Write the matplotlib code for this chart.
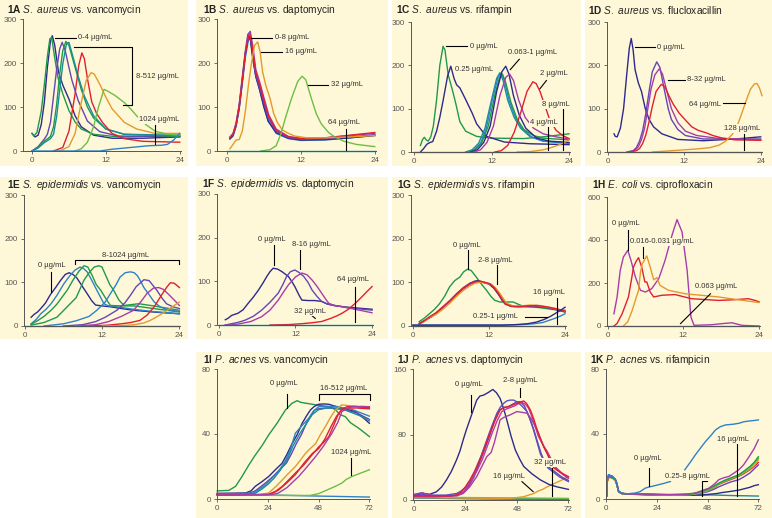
import numpy as np
import matplotlib.pyplot as plt
from matplotlib.patches import Rectangle

plt.rcParams['font.family'] = ['Liberation Sans', 'DejaVu Sans']
plt.rcParams['mathtext.fontset'] = 'custom'
plt.rcParams['mathtext.rm'] = 'Liberation Sans'
plt.rcParams['mathtext.it'] = 'Liberation Sans:italic'
plt.rcParams['mathtext.bf'] = 'Liberation Sans:bold'

W, H = 772, 518
BG = '#FFF8D8'

NAVY = '#2E2A8C'
GREEN = '#1E9A4A'
BLUE = '#2F82C8'
TEAL = '#1A8C9C'
RED = '#E0202F'
ORANGE = '#E39A2A'
PURPLE = '#A63DAA'
VIOLET = '#6446B6'
LGREEN = '#6DBE45'
MAGENTA = '#C0389E'

# ---- 1A S. aureus vs vancomycin (t in h, value) ----
a_navy = [(0, 40), (0.5, 32), (1, 36), (1.5, 60), (2, 110), (2.5, 190), (3.0, 250), (3.3, 262), (3.7, 240), (4.3, 180),
          (5, 150), (6, 118), (7, 80), (8, 55), (10, 36), (13, 29), (18, 29), (24, 32)]
a_green = [(0, 40), (0.3, 34), (0.8, 42), (1.5, 90), (2, 150), (2.5, 215), (2.9, 255), (3.2, 258), (3.6, 220), (4.2, 168),
           (5, 130), (6, 92), (7, 66), (8, 50), (10, 38), (14, 32), (24, 35)]
a_violet = [(0, 0), (1, 10), (2, 27), (2.5, 38), (3, 65), (3.5, 125), (4, 185), (4.5, 232), (4.9, 247), (5.4, 228),
            (6, 190), (6.5, 160), (7.5, 115), (9, 68), (11, 44), (14, 34), (24, 33)]
a_green2 = [(0, 0), (1, 8), (2, 22), (3, 33), (3.5, 55), (4, 105), (4.5, 175), (5, 228), (5.5, 249), (6, 240),
            (7, 190), (8, 140), (9, 100), (10, 75), (12, 50), (15, 38), (24, 33)]
a_blue = [(0, 0), (1, 7), (2, 19), (3, 28), (3.5, 38), (4, 78), (4.5, 138), (5, 198), (5.6, 244), (6.0, 247),
          (6.5, 222), (7.5, 170), (8.5, 125), (10, 80), (12, 50), (15, 38), (24, 36)]
a_red = [(3.5, 0), (5, 8), (6, 45), (7, 130), (7.6, 195), (8.1, 223), (8.5, 210), (9, 165), (9.7, 112), (10.5, 85),
         (11.5, 64), (13, 40), (15, 28), (18, 22), (24, 20)]
a_orange = [(4.5, 0), (6, 10), (7, 40), (8, 110), (8.8, 160), (9.6, 178), (10.1, 175), (11, 152), (12, 122), (13, 96),
            (15, 65), (17, 50), (20, 40), (24, 40)]
a_lgreen = [(7, 0), (8, 5), (9, 20), (10, 55), (10.8, 100), (11.7, 140), (12.3, 136), (13.5, 126), (15, 110), (16, 96),
            (17, 80), (18.5, 60), (20, 45), (22, 38), (24, 36)]
a_blue2 = [(0, 0), (11, 0), (13, 4), (16, 8), (19, 12), (21, 13), (22, 15), (23, 25), (24, 40)]

# ---- 1B S. aureus vs daptomycin ----
b_navy = [(0.5, 28), (1, 35), (1.5, 58), (2, 98), (2.5, 158), (3, 220), (3.5, 262), (3.8, 255), (4.2, 210), (4.7, 170),
          (5.3, 140), (6, 100), (6.7, 68), (8, 42), (10, 29), (12, 25), (16, 26), (20, 30), (24, 35)]
b_violet = [(0.5, 30), (1, 38), (1.5, 62), (2, 105), (2.5, 168), (3, 228), (3.4, 265), (3.7, 270), (4.1, 235), (4.6, 178),
            (5.2, 150), (6, 110), (6.7, 75), (8, 45), (10, 30), (12, 27), (16, 28), (20, 32), (24, 37)]
b_purple = [(0.5, 32), (1, 40), (1.5, 64), (2, 104), (2.5, 162), (3, 222), (3.5, 264), (3.8, 272), (4.2, 240), (4.7, 185),
            (5.3, 158), (6, 122), (6.8, 82), (8, 50), (10, 33), (12, 29), (16, 30), (20, 35), (24, 40)]
b_red = [(0.5, 30), (1, 37), (1.5, 60), (2, 100), (2.5, 160), (3, 222), (3.5, 260), (3.8, 263), (4.2, 228), (4.7, 178),
         (5.3, 152), (6, 115), (6.8, 78), (8, 47), (10, 32), (12, 28), (16, 30), (20, 36), (24, 42)]
b_blue = [(0.5, 27), (1, 34), (1.5, 56), (2, 95), (2.5, 152), (3, 212), (3.5, 252), (3.8, 256), (4.2, 215), (4.7, 168),
          (5.3, 140), (6, 102), (6.7, 68), (8, 40), (10, 28), (12, 24), (16, 25), (20, 30), (24, 36)]
b_orange = [(0.5, 5), (1, 15), (1.5, 25), (2, 26), (2.5, 45), (3, 90), (3.5, 150), (4, 200), (4.5, 240), (5, 248),
            (5.4, 225), (5.8, 180), (6.3, 150), (7, 120), (7.6, 85), (8.2, 65), (9, 48), (10, 40), (11, 34), (13, 30),
            (16, 30), (20, 32), (24, 35)]
b_lgreen = [(5.5, 0), (7, 3), (8, 12), (8.8, 40), (9.5, 75), (10.5, 120), (11.5, 158), (12.2, 170), (12.8, 162),
            (13.7, 120), (14.5, 85), (15.3, 62), (16.5, 42), (17.5, 32), (19, 22), (21, 15), (24, 10)]
b_teal = [(0, 0), (24, 0)]

# ---- 1C S. aureus vs rifampin ----
c_green = [(1, 15), (1.3, 28), (1.6, 34), (1.9, 28), (2.2, 25), (2.6, 35), (3, 60), (3.5, 120), (4, 200), (4.5, 244),
           (4.8, 235), (5.3, 178), (6, 140), (6.5, 110), (7.1, 70), (8, 48), (9.7, 36), (12, 32), (17, 31), (20, 35),
           (24, 42)]
c_navy = [(1, 0), (1.5, 8), (2, 18), (2.5, 22), (2.9, 24), (3.5, 48), (4, 80), (4.5, 118), (5.2, 175), (5.7, 198),
          (6.2, 170), (6.6, 155), (7.1, 148), (8.1, 118), (9, 90), (9.7, 65), (11.2, 36), (14, 23), (18, 19), (24, 17)]
c_teal = [(8, 0), (9, 5), (10, 20), (11, 55), (12, 120), (12.8, 170), (13.3, 183), (13.8, 165), (14.5, 120),
          (15.5, 80), (16.5, 55), (18, 35), (20, 25), (24, 20)]
c_blue = [(8.3, 0), (9.3, 5), (10.3, 20), (11.2, 55), (12.2, 125), (13, 172), (13.5, 182), (14, 165), (14.7, 120),
          (15.7, 80), (16.7, 55), (18.2, 35), (20, 25), (24, 21)]
c_green2 = [(8.5, 0), (9.5, 5), (10.5, 22), (11.5, 60), (12.5, 130), (13.2, 170), (13.7, 180), (14.2, 160), (15, 115),
            (16, 75), (17, 52), (18.5, 38), (20, 32), (24, 28)]
c_navy2 = [(8.8, 0), (9.8, 5), (10.8, 22), (11.8, 60), (12.8, 140), (13.6, 185), (14.2, 198), (14.7, 180), (15.4, 130),
           (16.3, 85), (17.3, 55), (19, 32), (21, 25), (24, 22)]
c_purple = [(9.3, 0), (10.3, 5), (11.3, 22), (12.3, 60), (13.3, 130), (14.2, 172), (14.8, 180), (15.4, 165),
            (16.2, 120), (17.2, 80), (18.5, 55), (20, 42), (22, 35), (24, 30)]
c_red = [(12.5, 0), (13.5, 3), (14.5, 15), (15.5, 45), (16.5, 90), (17.5, 140), (18.4, 162), (18.9, 158), (19.5, 140),
         (20.2, 110), (21, 75), (22, 50), (23, 38), (24, 31)]
c_orange = [(16, 0), (18, 1), (20, 5), (21, 9), (22, 14), (23, 20), (24, 28)]
c_teal2 = [(0, 0), (24, 0)]

# ---- 1D S. aureus vs flucloxacillin ----
d_navy = [(1, 42), (1.2, 36), (1.5, 35), (2, 55), (2.5, 100), (3, 180), (3.4, 240), (3.7, 262), (4, 235), (4.3, 190),
          (4.8, 160), (5.3, 140), (5.9, 100), (6.5, 75), (7.2, 58), (8.5, 42), (11, 29), (15, 26), (20, 30), (24, 35)]
d_violet = [(3, 0), (4, 3), (4.5, 10), (5, 25), (5.5, 50), (6, 90), (6.5, 140), (7, 185), (7.7, 208), (8.2, 195),
            (8.8, 150), (9.5, 100), (10, 75), (11, 52), (12.2, 38), (15, 30), (20, 30), (24, 30)]
d_purple = [(3.2, 0), (4.2, 3), (4.8, 12), (5.3, 28), (5.8, 55), (6.3, 100), (6.8, 145), (7.4, 178), (8.1, 192),
            (8.6, 180), (9.2, 145), (10, 100), (11, 68), (12.2, 48), (14, 38), (17, 32), (24, 28)]
d_red = [(3.5, 0), (4.5, 3), (5, 8), (5.5, 20), (6, 40), (6.5, 70), (7, 105), (7.6, 140), (8.4, 156), (9, 150),
         (9.6, 130), (10.3, 110), (11.2, 90), (12.3, 72), (13.2, 58), (14.2, 50), (15.5, 44), (16.5, 38), (18, 32),
         (20, 28), (24, 27)]
d_orange = [(7, 0), (10, 3), (12, 5), (14, 7), (16, 10), (17.5, 16), (18.5, 25), (19.5, 40), (20.3, 60), (21, 88),
            (21.7, 118), (22.4, 145), (23, 157), (23.4, 158), (23.8, 148), (24.2, 130)]
d_teal = [(0, 0), (24, 0)]

# ---- 1E S. epidermidis vs vancomycin ----
e_navy = [(1, 20), (1.5, 27), (2, 32), (2.5, 40), (3.2, 52), (4, 72), (4.8, 88), (5.6, 105), (6.3, 118), (6.9, 122),
          (7.5, 118), (8.1, 110), (8.9, 92), (9.7, 74), (10.4, 58), (11, 48), (12, 46), (13.3, 44), (15, 40),
          (16.9, 36), (20, 32), (24, 28)]
e_blue = [(1, 5), (1.8, 15), (2.5, 28), (3.3, 38), (4.1, 51), (5, 70), (6.1, 97), (7, 115), (7.8, 128), (8.6, 135),
          (9.1, 132), (9.7, 124), (10.4, 105), (11.2, 82), (12.3, 51), (13, 46), (14.3, 44), (17, 38), (20, 33),
          (24, 28)]
e_green = [(1, 4), (2, 12), (3, 22), (4.1, 36), (5, 50), (6.6, 82), (7.5, 105), (8.4, 125), (9.2, 138), (9.8, 135),
           (10.5, 115), (11.1, 95), (11.8, 82), (12.5, 65), (13.3, 47), (15, 46), (17, 46), (20, 40), (24, 32)]
e_green2 = [(1, 2), (3, 8), (5, 20), (6.6, 44), (8, 65), (9.2, 105), (10, 122), (10.8, 135), (11.5, 138), (12, 135),
            (12.6, 115), (13.2, 95), (13.8, 82), (14.6, 60), (15.4, 47), (17.7, 51), (20, 46), (24, 36)]
e_blue2 = [(3, 0), (6, 5), (8, 12), (10, 22), (11.2, 36), (12.5, 55), (13.3, 74), (14.2, 95), (14.8, 112), (15.6, 122),
           (16.4, 124), (17, 122), (17.5, 115), (17.9, 105), (18.5, 88), (19.2, 74), (20.1, 55), (21, 44), (22, 38),
           (24, 33)]
e_violet = [(6, 0), (9, 3), (11, 10), (12.5, 20), (14.3, 36), (15.5, 52), (16.4, 70), (17.3, 90), (18.5, 106),
            (19.3, 104), (20.5, 82), (21.3, 64), (22, 51), (23, 44), (24, 40)]
e_purple = [(8, 0), (11, 3), (13, 10), (15, 22), (16.9, 36), (18, 55), (19, 75), (20, 87), (20.8, 88), (21.5, 84),
            (22.5, 70), (23.3, 58), (24, 47)]
e_red = [(10, 0), (13, 2), (15, 5), (16.5, 8), (17.9, 13), (19, 25), (20.1, 44), (21.2, 70), (22, 88), (22.6, 99),
         (23.2, 98), (23.7, 92), (24, 88)]
e_orange = [(12, 0), (15, 1), (17, 3), (18.5, 7), (19.5, 13), (20.5, 21), (21.5, 30), (22.5, 40), (23.3, 48), (24, 55)]
e_teal = [(0, 0), (24, 0)]

# ---- 1F S. epidermidis vs daptomycin ----
f_navy = [(1, 12), (1.5, 16), (2, 22), (3, 27), (3.8, 35), (4.6, 50), (5.4, 64), (6.2, 80), (6.9, 96), (7.5, 111),
          (8, 122), (8.5, 130), (9.2, 128), (9.9, 122), (10.9, 111), (11.4, 100), (11.9, 88), (12.5, 70), (13, 57),
          (14, 56), (15, 56), (16.1, 54), (17, 48), (18.2, 44), (20, 41), (24, 36)]
f_violet = [(1, 0), (2, 3), (3, 6), (4.1, 11), (5.4, 20), (6.7, 34), (8, 52), (9.3, 73), (10, 92), (10.6, 111),
            (11.2, 122), (11.9, 126), (12.6, 120), (13.3, 111), (14, 97), (14.6, 80), (15.4, 65), (16.1, 54), (17, 48),
            (17.7, 46), (20, 40), (24, 34)]
f_purple = [(1, 0), (3, 2), (5, 8), (6.7, 19), (8, 34), (9.3, 57), (10.1, 75), (10.9, 92), (12, 110), (13, 119),
            (13.8, 115), (14.6, 103), (15.4, 88), (16.1, 73), (16.7, 60), (17.2, 50), (18, 45), (19.3, 42), (22, 34),
            (24, 28)]
f_red = [(8, 0), (11, 1), (13, 3), (14.5, 5), (16.1, 8), (17.5, 15), (18.5, 21), (19.3, 27), (20.3, 36), (21.4, 50),
         (22.5, 66), (23.3, 78), (24, 88)]
f_teal = [(0, 0), (24, 0)]

# ---- 1G S. epidermidis vs rifampin ----
g_green = [(1, 10), (1.8, 18), (2.6, 28), (3.4, 38), (4.2, 51), (5, 68), (5.8, 90), (6.6, 104), (7.4, 112), (8, 124),
           (8.6, 130), (9.2, 127), (10, 112), (10.8, 96), (11.6, 82), (12.3, 68), (12.9, 59), (13.7, 55), (14.5, 55),
           (15.8, 55), (16.6, 50), (17.4, 45), (20, 42), (22, 38), (24, 36)]
g_red = [(1, 5), (1.8, 12), (2.6, 21), (3.6, 30), (4.7, 44), (5.8, 58), (6.9, 74), (8, 88), (9, 97), (9.7, 101),
         (10.5, 103), (11.3, 100), (12.1, 97), (12.8, 88), (13.5, 74), (14.1, 60), (14.5, 51), (15.5, 45), (16.4, 44),
         (18, 46), (19.5, 47), (21, 44), (22.5, 40), (24, 34)]
g_orange = [(1, 4), (1.8, 10), (2.6, 20), (3.6, 26), (4.7, 38), (5.8, 52), (6.9, 68), (8, 82), (9, 92), (9.8, 98),
            (10.6, 100), (11.4, 99), (12.2, 96), (13, 88), (13.7, 75), (14.3, 62), (14.8, 52), (15.8, 46), (17, 46),
            (18.5, 48), (20, 47), (21.5, 43), (23, 38), (24, 35)]
g_navy = [(1, 6), (2, 14), (3, 22), (4, 33), (5, 46), (6, 60), (7, 75), (8, 88), (9, 98), (9.8, 103), (10.3, 104),
          (11, 100), (12, 96), (12.8, 86), (13.5, 72), (14.1, 58), (14.6, 50), (15.5, 45), (17, 44), (19, 45),
          (21, 43), (24, 32)]
g_purple = [(1, 5), (2, 13), (3, 22), (4, 32), (5, 45), (6, 58), (7, 72), (8, 85), (9, 95), (10, 101), (10.8, 102),
            (11.6, 99), (12.4, 95), (13.1, 84), (13.8, 68), (14.4, 55), (15, 48), (16, 45), (18, 46), (20, 45),
            (22, 40), (24, 33)]
g_blue = [(0, 2), (14, 2), (17, 3), (19, 5), (20.5, 8), (21.5, 13), (22.5, 18), (23.3, 23), (24, 28)]
g_navy2 = [(0, 2), (14, 2), (16, 3), (18, 5), (19.5, 9), (20.7, 15), (21.7, 22), (22.6, 30), (23.4, 37), (24, 43)]
g_teal = [(0, 1), (24, 1)]

# ---- 1H E. coli vs ciprofloxacin ----
h_magenta = [(1, 57), (1.5, 135), (2, 259), (2.5, 321), (3.2, 352), (3.7, 305), (4.4, 228), (5.2, 166), (6, 158),
             (7, 174), (8.1, 220), (9.1, 305), (10.2, 422), (11, 495), (11.8, 437), (12.6, 259), (13.2, 42), (13.7, 3),
             (16.5, 6), (18.5, 12), (19.7, 15), (21.3, 3), (24, 0)]
h_red = [(1, 0), (1.5, 12), (2.3, 57), (3.3, 135), (3.8, 220), (4.1, 274), (4.5, 300), (4.9, 318), (5.4, 274),
         (5.9, 205), (6.2, 205), (6.75, 158), (7.3, 135), (8.6, 143), (10.7, 146), (13.3, 127), (17.6, 119), (20, 122),
         (22.3, 127), (23.5, 118), (24, 112)]
h_orange = [(2.5, 0), (3.2, 20), (3.9, 73), (4.5, 130), (4.9, 166), (5.2, 250), (5.5, 290), (6.2, 326), (6.75, 274),
            (7.3, 215), (7.8, 225), (8.3, 189), (9.65, 166), (12.3, 150), (17.6, 135), (20, 125), (24, 109)]
h_blue = [(0, 0), (24, 0)]

# ---- 1I P. acnes vs vancomycin ----
i_green = [(0, 5), (5.5, 5.3), (8.7, 7.8), (11.8, 14), (15, 21), (18, 27), (21.3, 33), (24.4, 39.5), (28.3, 46.6),
           (32.3, 54.8), (35.4, 58.9), (37.8, 60.5), (39.5, 59.5), (41.7, 59), (46.5, 58), (52.8, 56.8), (56, 55),
           (58, 52), (60.6, 50.7), (63, 47), (66.9, 43.6), (69.5, 41), (72, 38.4)]
i_navy = [(0, 3.5), (13.4, 3.7), (16, 5), (18, 7.8), (21, 10.5), (24.4, 13.9), (27.5, 18), (30.7, 22), (33, 27.5),
          (35.4, 34), (37.8, 39.5), (40.2, 46.6), (42.2, 51), (44.1, 54.8), (46, 57), (48, 58.3), (50.5, 58.5),
          (52.8, 58.3), (56, 57), (59, 55.8), (62, 55), (65.4, 53.8), (68, 51), (70, 49), (72, 46.6)]
i_violet = [(0, 3), (15, 3.5), (18, 5), (20, 7), (23, 10), (26.4, 13.9), (29.5, 18), (32.7, 22), (35, 27.5),
            (37.4, 34), (39.8, 39.5), (42.2, 46.6), (44.2, 51), (46.1, 54.8), (48, 55.5), (51, 56), (54, 56),
            (57, 55.5), (60, 55), (63, 54), (66, 53), (69, 51), (72, 49)]
i_blue = [(0, 3), (17, 3.5), (20, 6), (23, 9), (26, 13), (29, 17), (32, 23), (34.5, 30), (37, 40.5), (40, 45),
          (43.3, 49.7), (45.5, 54), (48, 56.8), (52, 57), (56, 57), (60, 56), (64, 55), (68, 53), (72, 51)]
i_teal = [(0, 3), (18, 3.5), (21, 6), (24, 9), (27, 13), (30, 18), (33, 24), (36, 33), (39, 40), (42, 46), (45, 52),
          (48, 55), (52, 56), (56, 56), (60, 55), (64, 53), (68, 51), (72, 48)]
i_orange = [(0, 2.5), (20, 2.7), (24.4, 3.7), (28, 8), (31, 12), (33.9, 16), (37, 20), (40, 25), (41.7, 28), (44, 31),
            (46.5, 34), (49, 40), (51.2, 44.6), (53.5, 50), (55.9, 54.8), (59, 57.9), (62, 57.5), (66, 57), (70, 56),
            (72, 55.8)]
i_red = [(0, 2.5), (24, 2.7), (27.6, 4.7), (31, 8), (34, 12), (37, 16), (41, 21), (44.9, 27.2), (48, 32), (50.5, 35),
         (52.8, 38.4), (55, 45), (57.5, 52.8), (59.5, 55.5), (61.4, 56.8), (65, 57), (68, 56.6), (72, 56.2)]
i_red2 = [(0, 2.5), (25, 2.8), (29, 5.5), (33, 10), (37, 15), (41, 22), (45, 28), (48, 31), (51, 37), (54, 45),
          (56.5, 51), (59, 55), (62, 56), (66, 56), (72, 55.5)]
i_magenta = [(0, 2.5), (26, 2.8), (29, 3.7), (33, 7), (38.6, 13.9), (42, 19), (46.5, 26), (50, 32), (54.3, 40.5),
             (57, 47), (59, 53.8), (62, 56), (63.8, 56.8), (68, 57), (72, 56.8)]
i_lgreen = [(0, 2.5), (30, 2.2), (44, 2.2), (48, 3.3), (51, 5), (55.9, 7.8), (59, 9.8), (61, 12), (63.8, 13.9),
            (67, 15.5), (70, 17), (72, 18)]
i_blue2 = [(0, 3), (24, 2.5), (48, 1.8), (72, 1.2)]

# ---- 1J P. acnes vs daptomycin ----
j_navy = [(0, 5), (1, 6), (4.2, 8), (7.4, 7), (10.5, 10), (13, 16), (15.2, 24.5), (17.5, 35), (19.9, 49), (21.5, 60),
          (23, 73.5), (24.5, 86), (26.1, 98), (27.7, 110), (29.3, 122), (30.8, 127), (32.4, 128), (34.5, 131),
          (36.8, 135), (38.5, 131), (40.2, 124), (41.8, 112), (43.3, 98), (45.3, 78), (47.3, 61), (49.3, 50),
          (51.2, 41), (55, 32), (59, 24.5), (63, 19), (66.8, 16), (72, 13)]
j_violet = [(0, 7), (3, 8), (6, 6), (10, 6), (15, 6), (20, 8), (22, 11), (24.6, 16), (27, 26), (29.3, 41), (31.5, 55),
            (34, 73.5), (36.3, 90), (38.7, 106), (40.2, 113), (41.8, 118), (43.3, 121), (44.9, 122), (46.5, 122),
            (48, 120), (50.3, 115), (52.7, 108), (54.3, 98), (55.9, 86), (57.5, 72), (59.3, 57), (61, 46), (62.5, 39),
            (65, 34), (68, 28), (72, 22.5)]
j_blueviolet = [(0, 6), (5, 6), (10, 5), (15, 5), (20, 6), (23, 9), (25.5, 16), (28, 28), (30.5, 45), (33, 62),
                (35.5, 80), (38, 100), (40, 110), (42, 113), (44, 114), (46, 117), (48, 120), (49.5, 120),
                (51.5, 115), (53.5, 103), (55.5, 88), (57.5, 70), (59, 56), (61, 46), (63, 40), (66, 34), (69, 28),
                (72, 24)]
j_red = [(0, 5), (10, 5), (17, 5), (19.9, 6), (22, 10), (24, 16), (26.1, 24.5), (28.5, 36), (30.8, 49), (33, 64),
         (35.5, 82), (38, 98), (40.2, 110), (42, 113), (44.1, 114), (46, 116), (48, 118), (50, 120), (51.2, 121),
         (52.5, 118), (54.3, 110), (56, 98), (57.4, 86), (59, 75), (60.5, 65), (62.1, 57), (63.5, 48), (65.3, 39),
         (68, 34), (72, 28.6)]
j_red2 = [(0, 4), (10, 4), (18, 5), (21, 7), (23, 10), (25, 16), (27, 24), (29.5, 36), (32, 50), (34, 64), (36.5, 82),
          (39, 98), (41, 108), (43, 111), (45, 113), (47, 115), (49, 118), (50.5, 119), (52, 117), (53.5, 112),
          (55, 102), (56.5, 90), (58, 78), (60, 68), (62, 60), (64, 50), (66, 40), (69, 33), (72, 27)]
j_magenta = [(0, 6), (2, 8), (4, 9), (6, 7), (10, 5), (15, 5), (20, 5), (23, 8), (26, 16), (29.3, 28.6), (31.5, 40),
             (34, 53), (36, 58), (37.5, 70), (40.2, 98), (42, 101), (44.9, 104), (48, 108), (50.5, 107), (52.7, 106),
             (54.5, 100), (57.4, 86), (59.3, 73), (61.3, 61), (63.5, 50), (66.8, 37), (69.5, 31), (72, 26.5)]
j_orange = [(0, 3), (20, 2.5), (40, 2), (45, 2), (48, 3), (51.2, 4), (53.5, 6), (55.9, 8), (58, 11), (60, 13),
            (62.1, 16), (64.5, 19), (67, 22), (69.5, 25), (72, 28.6)]
j_green = [(0, 4), (24, 3), (48, 2.5), (72, 2)]
j_teal = [(0, 3), (24, 2), (48, 1.5), (72, 1)]
j_blue = [(0, 2.5), (24, 1.5), (48, 1), (72, 0.5)]

# ---- 1K P. acnes vs rifampicin ----
k_blue = [(0.3, 2), (0.5, 12), (1.1, 15), (2.7, 14), (3.5, 13), (4.3, 12), (5, 10), (5.5, 7), (5.9, 4.7), (7.4, 3.7),
          (10, 3.2), (13.8, 3.7), (16, 4.5), (18.5, 6.7), (20, 7.3), (21.7, 7.8), (24.8, 8.8), (27, 9.5),
          (30.4, 10.8), (np.nan, np.nan), (37.2, 18), (40, 23), (42.2, 27.2), (45, 32), (47, 35.4), (49.5, 39),
          (51.7, 42.5), (54, 44.5), (56.5, 45.6), (60, 46), (62.8, 46.6), (65, 47.5), (67.6, 48), (70, 48.3),
          (72, 48.7)]
k_magenta = [(0.3, 2), (0.5, 11), (1.1, 14), (2.7, 14), (4.3, 12), (5, 10), (5.9, 4.5), (7.4, 3.5), (10, 3), (20, 3),
             (30, 2.8), (38, 3), (42.2, 3.7), (45, 5), (48.6, 6.7), (51, 9), (53.3, 11.9), (55.5, 13), (58.1, 13.9),
             (60.5, 16), (62.8, 18), (65, 21), (67.6, 26), (70, 31), (72, 36.4)]
k_green = [(0.3, 2), (0.5, 12), (1.1, 14), (2.7, 13), (4.3, 12), (5, 9), (5.9, 4.5), (7.4, 3.5), (10, 3), (20, 3),
           (30, 2.6), (40, 3), (45, 4.5), (48, 6), (51, 8), (53.3, 9.8), (56, 11.5), (59, 13), (62.8, 15), (65, 17),
           (68, 20), (70, 22.5), (72, 26)]
k_orange = [(0.3, 2), (0.5, 10), (1.1, 13), (2.7, 13), (4.3, 11), (5, 9), (5.9, 4.3), (7.4, 3.3), (10, 3), (20, 2.8),
            (30, 2.5), (40, 2.8), (45, 4), (48, 5.5), (51, 7.5), (53.3, 9.5), (56, 11), (59, 12.5), (62.8, 14.5),
            (65, 16), (68, 18.5), (70, 20.5), (72, 24)]
k_red = [(0.3, 2), (0.5, 11), (1.1, 14), (2.7, 14), (4.3, 12), (5, 9), (5.9, 4.4), (7.4, 3.4), (10, 3), (20, 2.8),
         (30, 2.5), (40, 2.8), (45, 4), (48, 5.2), (51, 7), (53.3, 9), (56, 10.5), (59, 12), (62.8, 14), (65, 15.5),
         (68, 18), (70, 20), (72, 22.5)]
k_lgreen = [(0.3, 2), (0.5, 11), (1.1, 14), (2.7, 13), (4.3, 12), (5, 9), (5.9, 4.5), (7.4, 3.4), (10, 3), (20, 2.8),
            (30, 2.4), (40, 2.7), (45, 3.8), (48, 5), (51, 7.2), (53.3, 9.2), (56, 11), (59, 12.5), (62.8, 14.3),
            (65, 16.2), (68, 19), (70, 22), (72, 25)]
k_violet = [(0.3, 2), (0.5, 11), (1.1, 14), (2.7, 14), (4.3, 12), (5, 9), (5.9, 4.5), (7.4, 3.5), (10, 3), (20, 2.8),
            (30, 2.5), (40, 2.6), (45, 3.5), (48, 4.5), (51, 6), (53.3, 7.5), (56, 9), (59, 10.5), (62.8, 11.9),
            (65, 13.5), (68, 16), (70, 18.5), (72, 21)]
k_navy = [(0.3, 2), (0.5, 11), (1.1, 14), (2.7, 14), (4.3, 12), (5, 9), (5.9, 4.5), (7.4, 3.3), (10, 3), (20, 2.6),
          (30, 2.3), (40, 2.3), (45, 2.5), (48, 2.8), (52, 3.3), (55, 4), (58, 4.5), (62.8, 5.5), (65, 6.2), (68, 7.2),
          (70, 8.2), (72, 8.8)]
k_teal = [(0.3, 2), (0.5, 12), (1.1, 15), (2.7, 14), (4.3, 12), (5, 9), (5.9, 4.5), (7.4, 3.3), (10, 3), (20, 2.6),
          (30, 2.3), (40, 2.3), (50, 2.5), (55, 2.3), (60, 2.1), (65, 2), (72, 1.8)]

# panel boxes (pixels: x0, x1, y0, y1)
boxes = [(0, 188, 0, 166), (196, 388, 0, 166), (392, 581, 0, 166), (585, 772, 0, 166),
         (0, 188, 177, 339), (196, 388, 177, 339), (392, 581, 177, 339), (585, 772, 177, 339),
         (196, 388, 352, 518), (392, 581, 352, 518), (585, 772, 352, 518)]

fig = plt.figure(figsize=(W / 100, H / 100), dpi=100)
for x0, x1, y0, y1 in boxes:
    fig.add_artist(Rectangle((x0 / W, 1 - y1 / H), (x1 - x0) / W, (y1 - y0) / H,
                             transform=fig.transFigure, facecolor=BG, edgecolor='none', zorder=0))


def make_ax(left, right, top, bottom, xlim, ymax, xticks, yticks):
    ax = fig.add_axes([left / W, 1 - bottom / H, (right - left) / W, (bottom - top) / H])
    ax.set_facecolor('none')
    ax.set_xlim(*xlim)
    ax.set_ylim(0, ymax)
    ax.set_xticks(xticks)
    ax.set_yticks(yticks)
    for s in ['top', 'right']:
        ax.spines[s].set_visible(False)
    for s in ['left', 'bottom']:
        ax.spines[s].set_color('#555555')
        ax.spines[s].set_linewidth(0.7)
    ax.tick_params(length=2.5, width=0.6, color='#555555', labelsize=5.8, labelcolor='#555555', pad=2)
    return ax


def curves(ax, items):
    for pts, col in items:
        t, v = zip(*pts)
        ax.plot(t, v, color=col, lw=1.0, clip_on=False, zorder=2)


def label(ax, x, y, s, ha='left'):
    ax.text(x, y, s, fontsize=5.5, color='#333333', ha=ha, va='center', zorder=4,
            bbox=dict(facecolor=BG, edgecolor='none', pad=0.6))


def seg(ax, xs, ys):
    ax.plot(xs, ys, color='black', lw=0.8, clip_on=False, zorder=3)


def title(x, y, tag, species, drug):
    sp = species.replace(' ', r'\ ')
    fig.text(x / W, 1 - y / H, r'$\mathbf{%s}$ $\mathit{%s}$ vs. %s' % (tag, sp, drug),
             fontsize=7.3, color='#222222', ha='left', va='center')


U = ' \u00b5g/mL'

# 1A
ax = make_ax(23, 181, 19, 151, (-1.46, 24.2), 300, [0, 12, 24], [0, 100, 200, 300])
curves(ax, [(a_navy, NAVY), (a_green, GREEN), (a_violet, VIOLET), (a_green2, GREEN), (a_blue, TEAL),
            (a_red, RED), (a_orange, ORANGE), (a_lgreen, LGREEN), (a_blue2, BLUE)])
seg(ax, [3.8, 7.2], [257, 257])
label(ax, 7.5, 257, '0-4' + U)
seg(ax, [6.9, 16.25, 16.25, 14.8], [237, 237, 104, 104])
label(ax, 16.85, 169, '8-512' + U)
label(ax, 17.4, 71, '1024' + U)
seg(ax, [19.9, 19.9], [58, 17])
title(7, 10, '1A', 'S. aureus', 'vancomycin')

# 1B
ax = make_ax(217, 376, 19, 151, (-1.6, 24.2), 300, [0, 12, 24], [0, 100, 200, 300])
curves(ax, [(b_blue, BLUE), (b_navy, NAVY), (b_violet, VIOLET), (b_purple, PURPLE), (b_red, RED),
            (b_orange, ORANGE), (b_lgreen, LGREEN), (b_teal, TEAL)])
seg(ax, [3.85, 7.3], [257, 257])
label(ax, 7.75, 257, '0-8' + U)
seg(ax, [5.6, 8.9], [226, 226])
label(ax, 9.5, 226, '16' + U)
seg(ax, [13.2, 16.4], [151, 151])
label(ax, 16.85, 151, '32' + U)
label(ax, 16.4, 64, '64' + U)
seg(ax, [19.4, 19.4], [51, 3])
title(203, 10, '1B', 'S. aureus', 'daptomycin')

# 1C
ax = make_ax(411, 570, 22, 152, (-0.46, 24.15), 300, [0, 12, 24], [0, 100, 200, 300])
curves(ax, [(c_green, GREEN), (c_navy, NAVY), (c_teal, TEAL), (c_blue, BLUE), (c_green2, GREEN),
            (c_navy2, NAVY), (c_purple, PURPLE), (c_red, RED), (c_orange, ORANGE), (c_teal2, TEAL)])
seg(ax, [4.9, 8.15], [244, 244])
label(ax, 8.6, 244, '0' + U)
label(ax, 6.4, 191, '0.25' + U)
seg(ax, [14.9, 16.3], [190, 214])
label(ax, 14.6, 229, '0.063-1' + U)
seg(ax, [19.5, 20.5], [146, 165])
label(ax, 19.5, 182, '2' + U)
seg(ax, [23.0, 23.0], [100, 5])
label(ax, 19.8, 110, '8' + U)
seg(ax, [20.8, 20.8], [59, 5])
label(ax, 18.0, 68, '4' + U)
title(396, 10, '1C', 'S. aureus', 'rifampin')

# 1D
ax = make_ax(607, 762, 22, 152, (-0.1, 24.2), 300, [0, 12, 24], [0, 100, 200, 300])
curves(ax, [(d_navy, NAVY), (d_violet, VIOLET), (d_purple, PURPLE), (d_red, RED), (d_orange, ORANGE),
            (d_teal, TEAL)])
seg(ax, [4.33, 7.46], [242, 242])
label(ax, 7.8, 242, '0' + U)
seg(ax, [9.44, 12.15], [167, 167])
label(ax, 12.4, 167, '8-32' + U)
seg(ax, [18.15, 21.5], [112, 112])
label(ax, 12.8, 110, '64' + U)
label(ax, 18.3, 55, '128' + U)
seg(ax, [21.4, 21.4], [42, 4])
title(588, 10, '1D', 'S. aureus', 'flucloxacillin')

# 1E
ax = make_ax(24, 180, 195, 326, (-0.1, 24.1), 300, [0, 12, 24], [0, 100, 200, 300])
curves(ax, [(e_navy, NAVY), (e_blue, BLUE), (e_green, GREEN), (e_green2, GREEN), (e_blue2, BLUE),
            (e_violet, VIOLET), (e_purple, PURPLE), (e_red, RED), (e_orange, ORANGE), (e_teal, TEAL)])
label(ax, 2.06, 139, '0' + U)
seg(ax, [4.13, 4.13], [124, 78])
seg(ax, [7.74, 7.74, 23.9, 23.9], [141, 152, 152, 141])
label(ax, 15.6, 162, '8-1024' + U, ha='center')
title(7, 185, '1E', 'S. epidermidis', 'vancomycin')

# 1F
ax = make_ax(217, 373, 194, 325, (-0.3, 24.15), 300, [0, 12, 24], [0, 100, 200, 300])
curves(ax, [(f_navy, NAVY), (f_violet, VIOLET), (f_purple, PURPLE), (f_red, RED), (f_teal, TEAL)])
label(ax, 6.18, 195, '0' + U)
seg(ax, [8.65, 8.65], [184, 138])
label(ax, 11.5, 184, '8-16' + U)
seg(ax, [12.74, 12.74], [172, 129])
label(ax, 18.5, 105, '64' + U)
seg(ax, [21.4, 21.4], [88, 8])
label(ax, 11.8, 31, '32' + U)
seg(ax, [14.3, 15.1], [25, 15])
title(202, 184, '1F', 'S. epidermidis', 'daptomycin')

# 1G
ax = make_ax(411, 566, 195, 326, (-0.3, 24.15), 300, [0, 12, 24], [0, 100, 200, 300])
curves(ax, [(g_green, GREEN), (g_navy, NAVY), (g_purple, PURPLE), (g_orange, ORANGE), (g_red, RED),
            (g_teal, TEAL), (g_blue, BLUE), (g_navy2, NAVY)])
label(ax, 6.3, 185, '0' + U)
seg(ax, [8.7, 8.7], [174, 130])
label(ax, 10.3, 149, '2-8' + U)
seg(ax, [13.2, 13.2], [139, 97])
label(ax, 19.0, 76, '16' + U)
seg(ax, [22.7, 22.7], [63, 5])
label(ax, 9.5, 21, '0.25-1' + U)
seg(ax, [17.7, 21.1], [21, 21])
title(397, 185, '1G', 'S. epidermidis', 'rifampin')

# 1H
ax = make_ax(607, 760, 197, 326, (-0.1, 24.15), 600, [0, 12, 24], [0, 200, 400, 600])
curves(ax, [(h_magenta, PURPLE), (h_red, RED), (h_orange, ORANGE), (h_blue, BLUE)])
label(ax, 0.7, 479, '0' + U)
seg(ax, [3.23, 3.23], [445, 352])
label(ax, 3.6, 391, '0.016-0.031' + U)
seg(ax, [5.56, 5.56], [367, 318])
label(ax, 13.9, 184, '0.063' + U)
seg(ax, [11.55, 16.3], [11, 150])
title(592, 185, '1H', 'E. coli', 'ciprofloxacin')

# 1I
ax = make_ax(217, 370, 369, 499, (-0.1, 72.3), 80, [0, 24, 48, 72], [0, 40, 80])
curves(ax, [(i_blue2, BLUE), (i_lgreen, LGREEN), (i_green, GREEN), (i_navy, NAVY), (i_violet, VIOLET),
            (i_blue, BLUE), (i_teal, TEAL), (i_orange, ORANGE), (i_red2, RED), (i_red, RED), (i_magenta, PURPLE)])
label(ax, 25.0, 71.2, '0' + U)
seg(ax, [32.8, 32.8], [64.6, 55.8])
seg(ax, [48.3, 48.3, 72.5, 72.5], [61, 64.4, 64.4, 61])
label(ax, 48.6, 67.7, '16-512' + U)
label(ax, 53.8, 28.8, '1024' + U)
seg(ax, [63.3, 63.3], [25.2, 14.9])
title(203, 360, '1I', 'P. acnes', 'vancomycin')

# 1J
ax = make_ax(413, 569, 369, 500, (-0.4, 72.3), 160, [0, 24, 48, 72], [0, 80, 160])
curves(ax, [(j_blue, BLUE), (j_teal, TEAL), (j_green, LGREEN), (j_orange, ORANGE), (j_navy, NAVY),
            (j_blueviolet, VIOLET), (j_violet, '#5A50C0'), (j_magenta, PURPLE), (j_red2, MAGENTA), (j_red, RED)])
label(ax, 19.1, 141, '0' + U)
seg(ax, [26.4, 26.4], [128.6, 108])
label(ax, 41.5, 146, '2-8' + U)
seg(ax, [49.6, 49.6], [136.7, 125.7])
label(ax, 37.1, 28.6, '16' + U)
seg(ax, [50.4, 55.6], [22.4, 10.2])
label(ax, 55.9, 45.7, '32' + U)
seg(ax, [64.2, 64.2], [38.8, 4.9])
title(397, 360, '1J', 'P. acnes', 'daptomycin')

# 1K
ax = make_ax(606, 759, 369, 499, (-0.1, 72.3), 80, [0, 24, 48, 72], [0, 40, 80])
curves(ax, [(k_teal, TEAL), (k_navy, NAVY), (k_violet, VIOLET), (k_red, RED), (k_orange, ORANGE),
            (k_lgreen, LGREEN), (k_green, GREEN), (k_magenta, PURPLE), (k_blue, BLUE)])
label(ax, 13.0, 25.2, '0' + U)
seg(ax, [20.1, 20.1], [19, 7.8])
label(ax, 28.0, 13.9, '0.25-8' + U)
seg(ax, [47.8, 45.1, 45.1], [10.8, 10.8, 1.6])
label(ax, 52.5, 36.8, '16' + U)
seg(ax, [62.0, 62.0], [33.7, 1.6])
title(590, 360, '1K', 'P. acnes', 'rifampicin')

fig.savefig('out.png', dpi=100)
